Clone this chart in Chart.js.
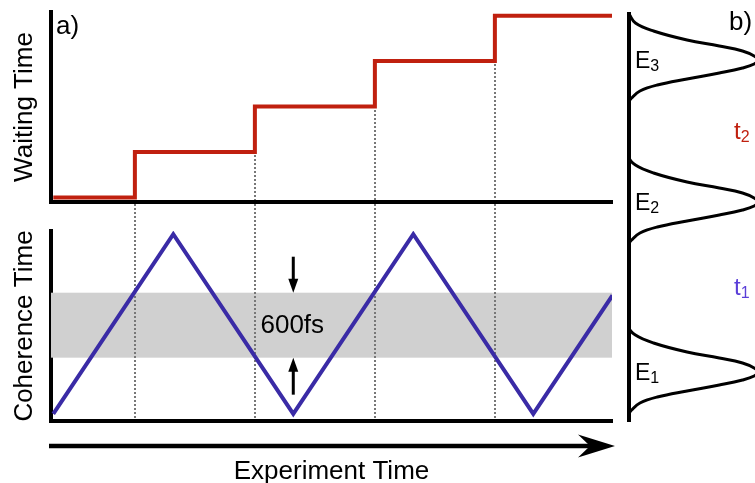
<!DOCTYPE html>
<html>
<head>
<meta charset="utf-8">
<script src="https://cdn.jsdelivr.net/npm/chart.js@4.4.1/dist/chart.umd.min.js"></script>
<style>
html, body { margin: 0; padding: 0; background: #fff; }
#wrap { position: relative; width: 755px; height: 483px; overflow: hidden; }
#wrap canvas { position: absolute; left: 0; top: 0; }
</style>
</head>
<body>
<div id="wrap">
  <canvas id="waitChart" width="755" height="483"></canvas>
  <canvas id="cohChart" width="755" height="490"></canvas>
  <canvas id="specChart" width="770" height="483"></canvas>
</div>
<script>
// experiment time, in units of half a coherence scan
const stepTimes = [0, 0.68, 1.68, 2.68, 3.68, 4.66];
const waitingLevels = [0, 1, 2, 3, 4, 4];

const scanTimes = [0, 1, 2, 3, 4, 4.66];
const coherenceFs = [0, 1660, 0, 1660, 0, 1095];
const windowFs = [520, 1120];   // the 600 fs window
const windowLabel = '600fs';

// spectrum (panel b): energy (arb. units) vs intensity
const specEnergy = [40.7, 39.8, 39.0, 38.1, 37.5, 37.0, 36.5, 36.1, 35.7, 35.3, 34.8, 34.2, 33.6, 33.0, 32.3, 31.9,
                    26.4, 25.6, 24.8, 23.9, 23.3, 22.8, 22.3, 21.9, 21.5, 21.1, 20.6, 20.0, 19.4, 18.8, 18.1, 17.7,
                    9.4, 8.6, 7.8, 6.9, 6.3, 5.8, 5.3, 4.9, 4.5, 4.1, 3.6, 3.0, 2.4, 1.8, 1.1, 0.7, 0];
const specIntensity = [0, 0.05, 0.19, 0.45, 0.70, 0.88, 0.97, 1, 0.97, 0.88, 0.70, 0.45, 0.22, 0.085, 0.02, 0,
                       0, 0.05, 0.19, 0.45, 0.70, 0.88, 0.97, 1, 0.97, 0.88, 0.70, 0.45, 0.22, 0.085, 0.02, 0,
                       0, 0.05, 0.19, 0.45, 0.70, 0.88, 0.97, 1, 0.97, 0.88, 0.70, 0.45, 0.22, 0.085, 0.02, 0, 0];
const levelEnergy = [4.9, 21.9, 36.1];   // E1, E2, E3

const FONT = '"Liberation Sans", Arial, Helvetica, sans-serif';
const RED = '#c0200f';
const BLUE = '#3a2ba6';
const VIOLET = '#5a3ed8';

Chart.defaults.font.family = FONT;
Chart.defaults.color = '#000';

function bareAxis(extra) {
    return Object.assign({
        grid: { display: false, drawTicks: false },
        ticks: { display: false },
        border: { display: true, color: '#000', width: 4 }
    }, extra);
}

function sideTitle(text) {
    return { display: true, text: text, color: '#000', font: { size: 26 }, padding: { top: 9, bottom: 10.8 } };
}

function drawSub(ctx, base, sub, x, y, size, subSize, color) {
    ctx.fillStyle = color;
    ctx.font = size + 'px ' + FONT;
    ctx.fillText(base, x, y);
    const w = ctx.measureText(base).width;
    ctx.font = subSize + 'px ' + FONT;
    ctx.fillText(sub, x + w, y + 3);
}

function arrow(ctx, x, tipY, tailY) {
    const dir = tipY > tailY ? 1 : -1;
    ctx.lineWidth = 3;
    ctx.beginPath();
    ctx.moveTo(x, tailY);
    ctx.lineTo(x, tipY - dir * 12);
    ctx.stroke();
    ctx.beginPath();
    ctx.moveTo(x, tipY);
    ctx.lineTo(x - 5, tipY - dir * 14);
    ctx.lineTo(x + 5, tipY - dir * 14);
    ctx.closePath();
    ctx.fill();
}

const baseOptions = {
    responsive: false,
    animation: false,
    events: [],
    plugins: { legend: { display: false }, tooltip: { enabled: false } }
};

// ---- panel a, top: waiting time steps
const waitChart = new Chart(document.getElementById('waitChart'), {
    type: 'line',
    data: {
        datasets: [{
            data: stepTimes.map((t, i) => ({ x: t, y: waitingLevels[i] })),
            borderColor: RED,
            borderWidth: 4,
            stepped: 'before',
            pointRadius: 0,
            fill: false
        }]
    },
    options: Object.assign({}, baseOptions, {
        layout: { padding: { left: 0, top: 12, right: 143, bottom: 281 } },
        scales: {
            x: bareAxis({ type: 'linear', min: -0.019, max: 4.656 }),
            y: bareAxis({ type: 'linear', min: -0.1, max: 4.08, title: sideTitle('Waiting Time') })
        }
    }),
    plugins: [{
        id: 'panelA',
        afterDraw(chart) {
            const ctx = chart.ctx;
            ctx.save();
            ctx.fillStyle = '#000';
            ctx.font = '26px ' + FONT;
            ctx.fillText('a)', chart.chartArea.left + 5, 34);
            ctx.restore();
        }
    }]
});

// ---- panel a, bottom: coherence time scan
const windowBand = {
    id: 'windowBand',
    beforeDatasetsDraw(chart) {
        const { ctx, chartArea, scales: { x, y } } = chart;
        ctx.save();
        const yHi = y.getPixelForValue(windowFs[1]);
        const yLo = y.getPixelForValue(windowFs[0]);
        ctx.fillStyle = '#d0d0d0';
        ctx.fillRect(chartArea.left, yHi, chartArea.right - chartArea.left, yLo - yHi);

        // dotted guides from each waiting-time step down to the scan axis
        const topArea = waitChart.chartArea;
        const topY = waitChart.scales.y;
        ctx.strokeStyle = '#777';
        ctx.lineWidth = 2;
        ctx.setLineDash([2, 2]);
        for (let i = 1; i < stepTimes.length - 1; i++) {
            const px = Math.round(x.getPixelForValue(stepTimes[i]));
            const start = Math.round(topY.getPixelForValue(waitingLevels[i - 1])) + 3;
            ctx.beginPath();
            if (start < topArea.bottom - 2) {
                ctx.moveTo(px, start);
                ctx.lineTo(px, topArea.bottom - 2);
            }
            ctx.moveTo(px, Math.round(topArea.bottom) + 2);
            ctx.lineTo(px, chartArea.bottom - 2);
            ctx.stroke();
        }
        ctx.restore();
    }
};

const scanNotes = {
    id: 'scanNotes',
    afterDraw(chart) {
        const { ctx, chartArea, scales: { x, y } } = chart;
        ctx.save();
        ctx.fillStyle = '#000';
        ctx.strokeStyle = '#000';

        // window width label with arrows
        const cx = x.getPixelForValue(scanTimes[2]);
        const yHi = y.getPixelForValue(windowFs[1]);
        const yLo = y.getPixelForValue(windowFs[0]);
        ctx.font = '26px ' + FONT;
        ctx.textAlign = 'center';
        ctx.textBaseline = 'middle';
        ctx.fillText(windowLabel, cx - 1, (yHi + yLo) / 2 + 1);
        arrow(ctx, cx, yHi, yHi - 36);
        arrow(ctx, cx, yLo, yLo + 37);

        // experiment time arrow
        const ay = chartArea.bottom + 25;
        ctx.lineWidth = 4.3;
        ctx.beginPath();
        ctx.moveTo(chartArea.left - 2, ay);
        ctx.lineTo(chartArea.right - 20, ay);
        ctx.stroke();
        ctx.beginPath();
        ctx.moveTo(chartArea.right + 3, ay);
        ctx.lineTo(chartArea.right - 34, ay - 11.5);
        ctx.lineTo(chartArea.right - 22, ay);
        ctx.lineTo(chartArea.right - 34, ay + 11.5);
        ctx.closePath();
        ctx.fill();
        ctx.restore();
    }
};

const cohChart = new Chart(document.getElementById('cohChart'), {
    type: 'line',
    data: {
        datasets: [{
            data: scanTimes.map((t, i) => ({ x: t, y: coherenceFs[i] })),
            borderColor: BLUE,
            borderWidth: 4,
            pointRadius: 0,
            tension: 0,
            fill: false
        }]
    },
    options: Object.assign({}, baseOptions, {
        layout: { padding: { left: 0, top: 231, right: 143, bottom: 0 } },
        scales: {
            x: bareAxis({
                type: 'linear', min: -0.019, max: 4.656,
                title: { display: true, text: 'Experiment Time', color: '#000', font: { size: 26 }, padding: { top: 35.4, bottom: 2.4 } }
            }),
            y: bareAxis({ type: 'linear', min: -65, max: 1690, title: sideTitle('Coherence Time') })
        }
    }),
    plugins: [windowBand, scanNotes]
});

// ---- panel b: spectrum
const levelLabels = {
    id: 'levelLabels',
    afterDatasetsDraw(chart) {
        const { ctx, chartArea, scales: { y } } = chart;
        ctx.save();
        ctx.textBaseline = 'alphabetic';
        const py = levelEnergy.map(e => y.getPixelForValue(e));
        py.forEach((p, i) => drawSub(ctx, 'E', String(i + 1), chartArea.left + 6, p + 8, 23, 16, '#000'));
        drawSub(ctx, 't', '2', chartArea.left + 105, (py[2] + py[1]) / 2 + 8, 24, 16, RED);
        drawSub(ctx, 't', '1', chartArea.left + 105, (py[1] + py[0]) / 2 + 8, 24, 16, VIOLET);
        ctx.fillStyle = '#000';
        ctx.font = '26px ' + FONT;
        ctx.fillText('b)', chartArea.left + 100, 30);
        ctx.restore();
    }
};

new Chart(document.getElementById('specChart'), {
    type: 'scatter',
    data: {
        datasets: [{
            data: specEnergy.map((e, i) => ({ x: specIntensity[i], y: e })),
            showLine: true,
            borderColor: '#000',
            borderWidth: 3,
            pointRadius: 0,
            tension: 0.4,
            fill: false
        }]
    },
    options: Object.assign({}, baseOptions, {
        layout: { padding: { left: 629, top: 14, right: 12, bottom: 62 } },
        scales: {
            x: { type: 'linear', min: 0, max: 1, display: false },
            y: bareAxis({ type: 'linear', min: 0, max: 40.7 })
        }
    }),
    plugins: [levelLabels]
});
</script>
</body>
</html>
